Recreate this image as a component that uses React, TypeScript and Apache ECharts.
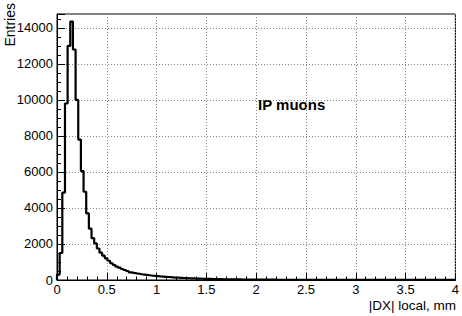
import React, { useEffect, useRef } from "react";
import * as echarts from "echarts";

const X_MIN = 0;
const X_MAX = 4;
const N_BINS = 150;
const Y_MAX = 14770;
const xTickLabels = ["0", "0.5", "1", "1.5", "2", "2.5", "3", "3.5", "4"];
const yTickLabels = ["0", "2000", "4000", "6000", "8000", "10000", "12000", "14000"];
const counts: number[] = [
  300, 1500, 4850, 9800, 13000, 14350, 12800, 10000, 7800, 6050, 4900, 3700, 2850, 2320,
  2030, 1750, 1517, 1350, 1200, 1070, 930, 833, 740, 683, 611, 555, 500, 427,
  400, 370, 345, 320, 300, 280, 262, 245, 230, 215, 200,
  190, 178, 166, 155, 145, 136, 127, 119, 111, 104, 97,
  91, 85, 80, 75, 70, 66, 62, 58, 54, 51, 48,
  45, 42, 40, 38, 36, 34, 32, 30, 28, 27,
  25, 24, 22, 21, 20, 19, 18, 17,
  17, 16, 16, 15, 15, 14, 14, 13, 13, 12,
  12, 12, 11, 11, 10, 10, 10, 9, 9, 9,
  9, 8, 8, 8, 8, 7, 7, 7, 7, 7,
  6, 6, 6, 6, 6, 6, 5, 5, 5, 5,
  5, 5, 5, 4, 4, 4, 4, 4, 4, 4,
  4, 3, 3, 3, 3, 3, 3, 3, 3, 3,
  3, 2, 2, 2, 2, 2, 2, 2, 2, 2,
  2,
];
const xTitle = "|DX| local, mm";
const yTitle = "Entries";
const label = "IP muons";

const FONT = "'Liberation Sans', Arial, Helvetica, sans-serif";

export default function App() {
  const ref = useRef<HTMLDivElement>(null);
  useEffect(() => {
    if (!ref.current) return;
    const chart = echarts.init(ref.current, undefined, { renderer: "svg" });
    const w = (X_MAX - X_MIN) / N_BINS;
    const pts: number[][] = [[X_MIN, 0]];
    counts.forEach((v, i) => {
      pts.push([X_MIN + i * w, v]);
    });
    pts.push([X_MAX, counts[counts.length - 1]]);

    chart.setOption({
      animation: false,
      backgroundColor: "#fff",
      grid: {
        left: 57,
        right: 3,
        top: 14,
        bottom: 36,
        show: true,
        borderColor: "#000",
        borderWidth: 1,
        backgroundColor: "transparent",
      },
      xAxis: {
        type: "value",
        min: X_MIN,
        max: X_MAX,
        interval: 0.5,
        axisLine: { show: true, lineStyle: { color: "#000", width: 1 } },
        axisTick: { show: true, inside: true, length: 7, lineStyle: { color: "#000" } },
        minorTick: { show: true, splitNumber: 5, length: 3.5, lineStyle: { color: "#000" } },
        splitLine: { show: true, lineStyle: { color: "#888", type: [1, 2], width: 1 } },
        axisLabel: {
          margin: 3,
          color: "#000",
          fontSize: 13,
          fontFamily: FONT,
          formatter: (v: number) => {
            const idx = Math.round((v - X_MIN) / 0.5);
            return xTickLabels[idx] ?? "";
          },
        },
      },
      yAxis: {
        type: "value",
        min: 0,
        max: Y_MAX,
        interval: 2000,
        axisLine: { show: true, lineStyle: { color: "#000", width: 1 } },
        axisTick: { show: true, inside: true, length: 8, lineStyle: { color: "#000" } },
        minorTick: { show: true, splitNumber: 4, length: 4, lineStyle: { color: "#000" } },
        splitLine: { show: true, lineStyle: { color: "#888", type: [1, 2], width: 1 } },
        axisLabel: {
          margin: 4,
          color: "#000",
          fontSize: 13,
          fontFamily: FONT,
          showMaxLabel: false,
          formatter: (v: number) => {
            const idx = Math.round(v / 2000);
            return Math.abs(v - idx * 2000) < 1 ? yTickLabels[idx] ?? "" : "";
          },
        },
      },
      series: [
        {
          type: "line",
          step: "end",
          data: pts,
          showSymbol: false,
          symbol: "none",
          lineStyle: { color: "#000", width: 2.2 },
          clip: true,
        },
      ],
      graphic: [
        {
          type: "text",
          x: 456,
          y: 305,
          style: {
            text: xTitle,
            align: "right",
            verticalAlign: "middle",
            fontSize: 13.5,
            fontFamily: FONT,
            fill: "#000",
          },
        },
        {
          type: "text",
          x: 10,
          y: 3,
          rotation: Math.PI / 2,
          style: {
            text: yTitle,
            align: "right",
            verticalAlign: "middle",
            fontSize: 14,
            fontFamily: FONT,
            fill: "#000",
          },
        },
        {
          type: "text",
          x: 258,
          y: 104,
          style: {
            text: label,
            align: "left",
            verticalAlign: "middle",
            fontSize: 15,
            fontWeight: "bold",
            fontFamily: FONT,
            fill: "#000",
          },
        },
      ],
    });
    return () => chart.dispose();
  }, []);
  return (
    <div
      ref={ref}
      style={{ position: "fixed", left: 0, top: 0, width: 462, height: 316, background: "#fff" }}
    />
  );
}
